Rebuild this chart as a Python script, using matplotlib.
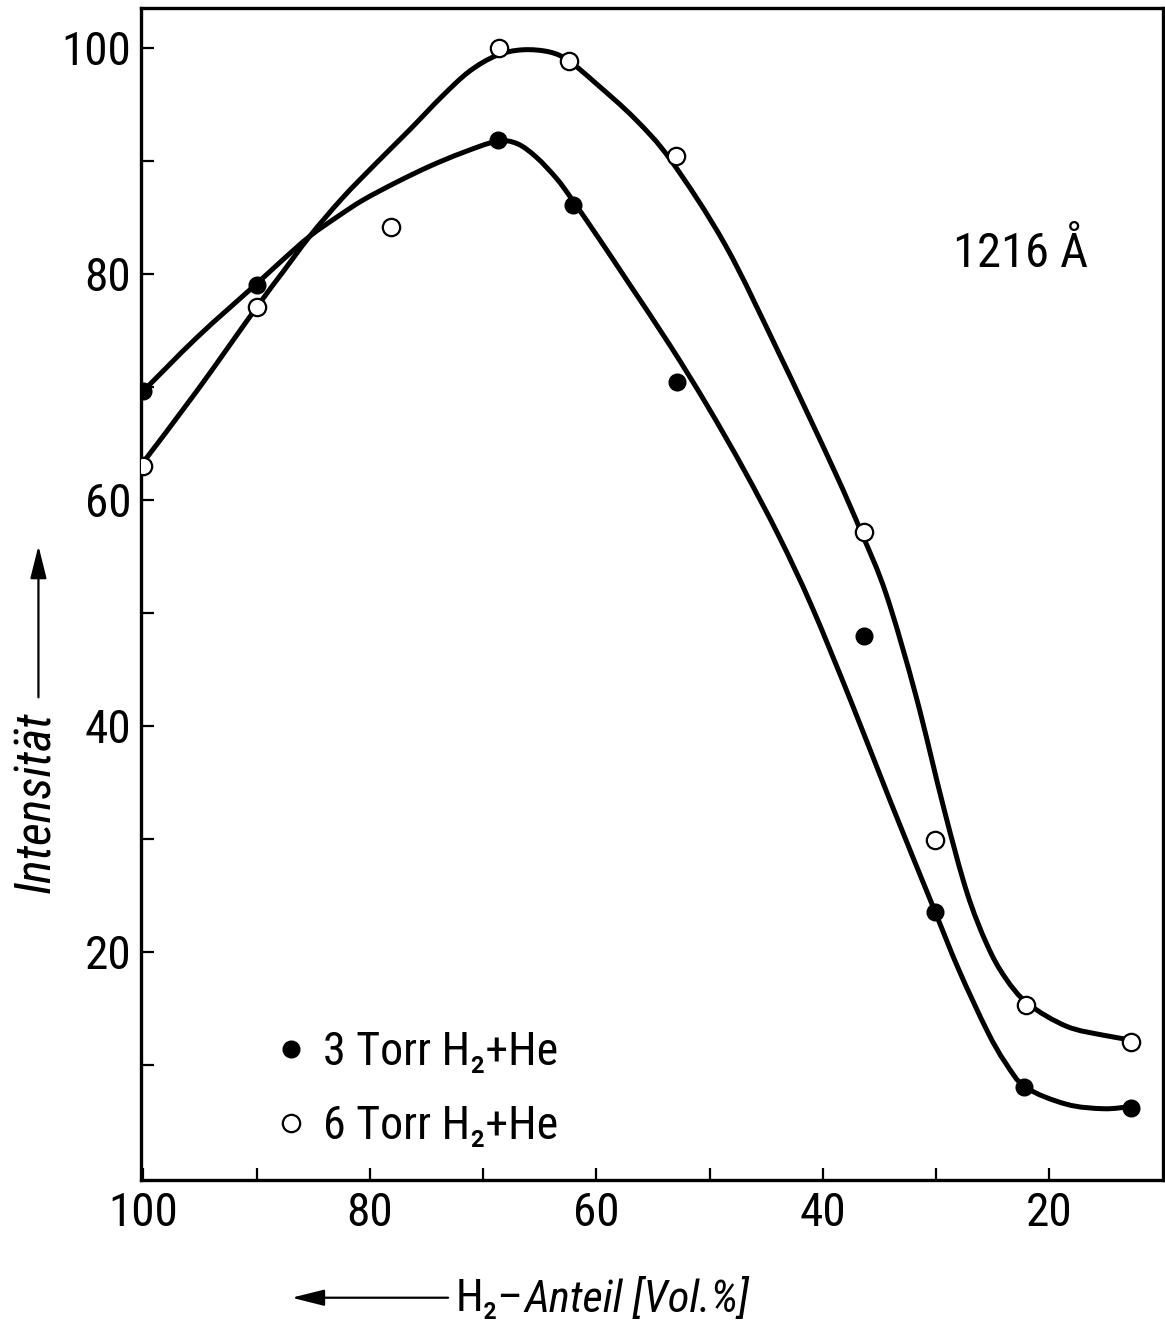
import matplotlib
matplotlib.use("Agg")
import matplotlib.pyplot as plt
from matplotlib import font_manager
from matplotlib.lines import Line2D
from matplotlib.patches import FancyArrowPatch, PathPatch
from matplotlib.path import Path

# ── Fonts: pick the narrowest installed sans ──────────────────
installed = {f.name for f in font_manager.fontManager.ttflist}
for cand in ["Roboto Condensed", "Liberation Sans Narrow",
             "DejaVu Sans Condensed", "Roboto"]:
    if cand in installed:
        MAIN = cand
        break
else:
    MAIN = "DejaVu Sans"
plt.rcParams["font.family"] = [MAIN, "DejaVu Sans"]

# ── Data ──────────────────────────────────────────────────────
# measured points
x_3torr = [100, 90, 68.7, 62.1, 52.9, 36.4, 30.1, 22.2, 12.8]
y_3torr = [69.6, 79.0, 91.8, 86.1, 70.4, 47.9, 23.5, 8.0, 6.2]

x_6torr = [100, 90, 78.1, 68.6, 62.4, 53.0, 36.4, 30.1, 22.1, 12.8]
y_6torr = [63.0, 77.0, 84.1, 100.0, 98.8, 90.4, 57.1, 29.9, 15.3, 12.0]

# hand-drawn fit curves
cx_3torr = [100, 95.2, 90.1, 87.7, 85.3, 82.9, 80.6, 77.6, 74.7, 71.8,
            68.8, 67.0, 65.3, 63.5, 62.1, 59.7, 57.1, 53.4, 50.2, 47.0,
            43.9, 41.0, 37.5, 34.0, 30.2, 28.0, 25.5, 23.9, 22.1, 18.5,
            15.2, 12.8]
cy_3torr = [69.6, 74.4, 79.0, 81.2, 83.3, 85.0, 86.5, 88.1, 89.5, 90.7,
            91.7, 91.5, 90.3, 88.4, 86.5, 83.0, 79.1, 73.5, 68.3, 62.7,
            56.8, 50.6, 42.1, 33.2, 23.8, 18.4, 13.0, 10.2, 8.0, 6.5,
            6.1, 6.3]

cx_6torr = [100, 95.2, 90.0, 87.7, 85.3, 82.4, 79.4, 76.5, 73.6, 71.2,
            68.8, 66.5, 64.1, 62.4, 60.0, 56.6, 53.4, 48.6, 43.9, 39.1,
            36.6, 34.4, 31.8, 29.3, 27.3, 25.5, 23.9, 21.9, 18.5, 15.2,
            12.8]
cy_6torr = [63.3, 69.7, 77.0, 80.1, 83.3, 86.7, 89.8, 92.7, 95.7, 97.9,
            99.3, 99.8, 99.6, 98.8, 96.8, 93.7, 90.0, 82.5, 73.0, 62.8,
            57.1, 51.6, 42.7, 32.6, 25.3, 20.6, 17.7, 15.4, 13.4, 12.6,
            12.2]

x_ticks = [100, 80, 60, 40, 20]
y_ticks = [20, 40, 60, 80, 100]
minor_x = [90, 70, 50, 30]
minor_y = [10, 30, 50, 70, 90]

labels = ["3 Torr H\u2082+He", "6 Torr H\u2082+He"]


def smooth_path(xs, ys):
    # Catmull-Rom through the traced points, as cubic Bezier segments
    pts = list(zip(xs, ys))
    n = len(pts)
    verts, codes = [pts[0]], [Path.MOVETO]
    for i in range(n - 1):
        p0 = pts[max(i - 1, 0)]
        p1, p2 = pts[i], pts[i + 1]
        p3 = pts[min(i + 2, n - 1)]
        c1 = (p1[0] + (p2[0] - p0[0]) / 6, p1[1] + (p2[1] - p0[1]) / 6)
        c2 = (p2[0] - (p3[0] - p1[0]) / 6, p2[1] - (p3[1] - p1[1]) / 6)
        verts += [c1, c2, p2]
        codes += [Path.CURVE4] * 3
    return Path(verts, codes)


# ── Plot ──────────────────────────────────────────────────────
fig = plt.figure(figsize=(11.65, 13.31), dpi=100)
ax = fig.add_axes([0.121, 0.1135, 0.877, 0.8805])

for cx, cy in [(cx_3torr, cy_3torr), (cx_6torr, cy_6torr)]:
    ax.add_patch(PathPatch(smooth_path(cx, cy), fill=False, lw=3.6,
                           ec="black", capstyle="round", joinstyle="round",
                           zorder=2))

ax.plot(x_3torr, y_3torr, ls="none", marker="o", ms=12,
        mfc="black", mec="black", zorder=3)
ax.plot(x_6torr, y_6torr, ls="none", marker="o", ms=12.5,
        mfc="white", mec="black", mew=1.6, zorder=3)

ax.set_xlim(100.2, 10.0)
ax.set_ylim(-0.2, 103.5)

ax.set_xticks(x_ticks)
ax.set_xticks(minor_x, minor=True)
ax.set_yticks(y_ticks)
ax.set_yticks(minor_y, minor=True)
ax.tick_params(which="both", direction="in", length=9, width=1.6,
               top=False, right=False)
ax.tick_params(axis="x", which="major", labelsize=34, pad=8)
ax.tick_params(axis="y", which="major", labelsize=34, pad=7)

for s in ax.spines.values():
    s.set_linewidth(2.4)

# legend (markers only)
handles = [
    Line2D([], [], ls="none", marker="o", ms=12, mfc="black", mec="black"),
    Line2D([], [], ls="none", marker="o", ms=12.5, mfc="white", mec="black",
           mew=1.6),
]
ax.legend(handles, labels, loc="lower left", bbox_to_anchor=(0.093, 0.0),
          frameon=False, fontsize=33, handletextpad=0.2, labelspacing=0.65,
          handlelength=1.0, borderpad=0.2)

ax.text(0.861, 0.79, "1216 Å", transform=ax.transAxes, fontsize=35,
        ha="center", va="center")

# axis labels with direction arrows
fig.text(0.031, 0.397, "Intensität", rotation=90, style="italic",
         fontsize=36, ha="center", va="center")
fig.add_artist(FancyArrowPatch(
    (0.033, 0.474), (0.033, 0.592), transform=fig.transFigure,
    arrowstyle="-|>,head_length=20,head_width=5", lw=1.6, color="black",
    mutation_scale=1))

h2 = fig.text(0.391, 0.024, "H\u2082\u2013", fontsize=32, ha="left",
              va="center")
ax.annotate("Anteil [Vol.%]", xy=(1, 0.5), xycoords=h2, xytext=(1, 0),
            textcoords="offset points", style="italic", fontsize=32,
            ha="left", va="center", annotation_clip=False)
fig.add_artist(FancyArrowPatch(
    (0.387, 0.025), (0.248, 0.025), transform=fig.transFigure,
    arrowstyle="-|>,head_length=20,head_width=5", lw=1.6, color="black",
    mutation_scale=1))

fig.savefig("out.png", dpi=100)
